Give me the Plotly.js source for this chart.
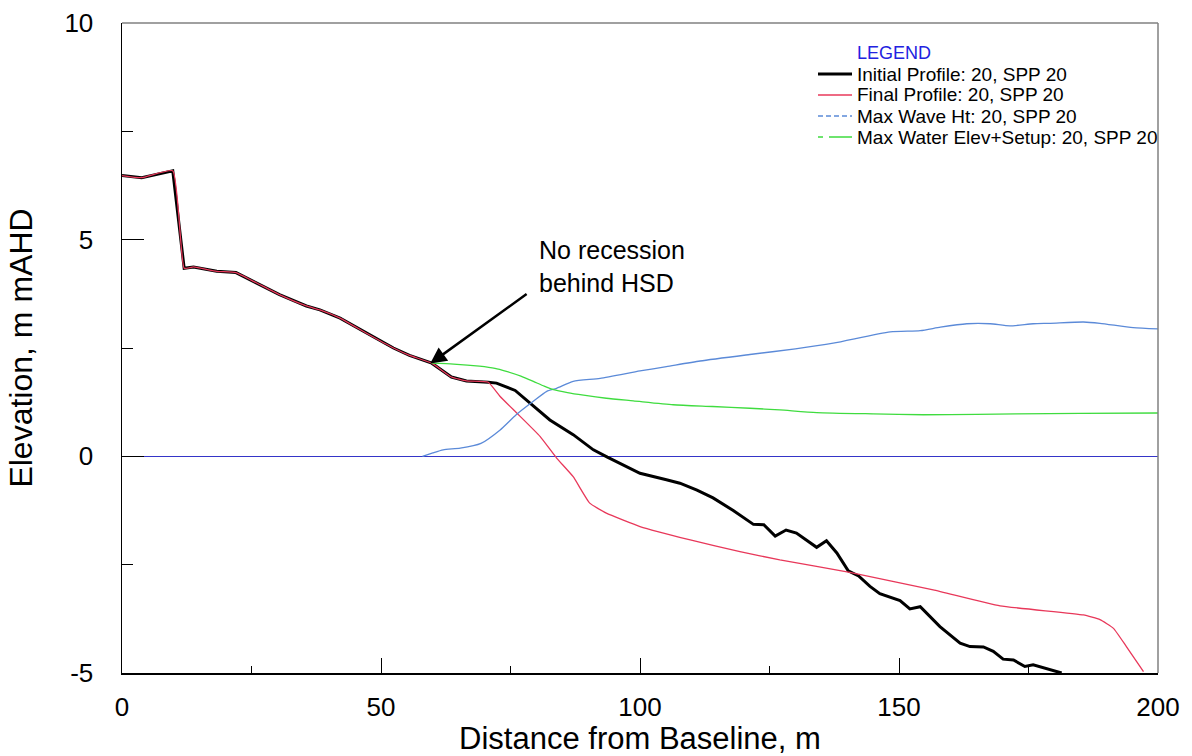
<!DOCTYPE html>
<html>
<head>
<meta charset="utf-8">
<script src="https://cdn.plot.ly/plotly-3.0.1.min.js"></script>
<style>html,body{margin:0;padding:0;background:#fff;}#chart{width:1192px;height:756px;}</style>
</head>
<body>
<div id="chart"></div>
<script>
// Initial profile (black)
const initX = [0, 3.8, 9.8, 12.0, 13.8, 18.3, 22.0, 26.0, 30.4, 35.6, 38.2, 42.1, 47.2, 52.4, 55.5, 59.8, 63.6, 66.5, 70.7, 72.3, 75.9, 79.4, 82.6, 87.1, 91.0, 93.7, 100.0, 105.1, 107.7, 111.0, 114.1, 118.0, 121.9, 123.9, 126.1, 128.2, 130.2, 134.1, 136.0, 138.0, 140.2, 142.2, 144.4, 146.3, 150.2, 152.1, 154.1, 157.9, 161.8, 163.7, 166.3, 168.2, 170.1, 172.1, 174.3, 175.9, 179.2, 181.4];
const initY = [6.48, 6.43, 6.59, 4.34, 4.37, 4.27, 4.24, 4.00, 3.73, 3.47, 3.38, 3.19, 2.84, 2.50, 2.33, 2.15, 1.83, 1.74, 1.71, 1.69, 1.52, 1.17, 0.84, 0.50, 0.15, -0.02, -0.39, -0.54, -0.62, -0.78, -0.96, -1.25, -1.57, -1.58, -1.84, -1.70, -1.77, -2.10, -1.95, -2.23, -2.64, -2.76, -3.00, -3.17, -3.33, -3.52, -3.47, -3.93, -4.31, -4.39, -4.40, -4.50, -4.68, -4.70, -4.85, -4.81, -4.93, -5.00];

// Final profile (red)
const finalX = [0, 3.8, 9.8, 12.0, 13.8, 18.3, 22.0, 26.0, 30.4, 35.6, 38.2, 42.1, 47.2, 52.4, 55.5, 59.8, 63.6, 66.5, 70.7, 73.0, 76.2, 80.7, 83.9, 87.1, 90.3, 93.5, 100.0, 109.7, 119.3, 127.0, 140.5, 156.6, 169.5, 185.6, 188.8, 191.4, 193.9, 197.2];
const finalY = [6.48, 6.43, 6.59, 4.34, 4.37, 4.27, 4.24, 4.00, 3.73, 3.47, 3.38, 3.19, 2.84, 2.50, 2.33, 2.15, 1.83, 1.74, 1.71, 1.38, 1.00, 0.46, -0.04, -0.47, -1.08, -1.31, -1.62, -1.93, -2.20, -2.39, -2.68, -3.08, -3.45, -3.66, -3.77, -3.97, -4.39, -4.97];

// Max wave height (blue)
const waveX = [58.0, 60.0, 62.0, 65.3, 69.3, 73.0, 76.1, 79.4, 82.0, 83.9, 87.1, 92.3, 100.0, 105.1, 111.6, 121.2, 130.0, 137.3, 148.3, 154.1, 158.0, 163.1, 167.6, 171.4, 175.9, 179.2, 185.6, 188.8, 195.2, 200.0];
const waveY = [0.00, 0.08, 0.15, 0.19, 0.30, 0.61, 0.96, 1.27, 1.50, 1.57, 1.73, 1.80, 1.97, 2.07, 2.20, 2.35, 2.48, 2.61, 2.87, 2.90, 2.98, 3.06, 3.06, 3.01, 3.06, 3.07, 3.10, 3.07, 2.97, 2.94];

// Max water elevation + setup (green)
const waterX = [59.8, 64.0, 69.0, 72.0, 74.2, 77.0, 79.4, 81.5, 83.3, 86.0, 89.1, 93.5, 98.7, 106.4, 114.0, 121.2, 127.0, 134.1, 145.0, 154.7, 165.0, 172.6, 185.0, 200.0];
const waterY = [2.15, 2.13, 2.08, 2.03, 1.96, 1.85, 1.73, 1.62, 1.54, 1.47, 1.41, 1.34, 1.28, 1.19, 1.15, 1.11, 1.07, 1.01, 0.98, 0.96, 0.97, 0.98, 0.99, 1.00];

const seriesNames = ["Initial Profile: 20, SPP 20", "Final Profile: 20, SPP 20", "Max Wave Ht: 20, SPP 20", "Max Water Elev+Setup: 20, SPP 20"];

// Tick labels
const xTickVals = [0, 50, 100, 150, 200];
const xTickText = ["0", "50", "100", "150", "200"];
const yTickVals = [-5, 0, 5, 10];
const yTickText = ["-5", "0", "5", "10"];

const FONT = "Liberation Sans, Arial, sans-serif";
const cBlack = "#000000", cRed = "#e8385a", cBlue = "#5b8ad8", cGreen = "#3fdc3f";
const seriesColors = [cBlack, cRed, cBlue, cGreen];
const seriesWidths = [3, 1.3, 1.3, 1.3];
const seriesDash = ["solid", "solid", "5px,3px", "5px,6px,23px,6px"];

const traces = [
  {x: initX, y: initY, name: seriesNames[0], mode: "lines", line: {color: cBlack, width: 3}, hoverinfo: "skip"},
  {x: finalX, y: finalY, name: seriesNames[1], mode: "lines", line: {color: cRed, width: 1.3, shape: "spline", smoothing: 0.4}, hoverinfo: "skip"},
  {x: waveX, y: waveY, name: seriesNames[2], mode: "lines", line: {color: cBlue, width: 1.3, shape: "spline", smoothing: 0.6}, hoverinfo: "skip"},
  {x: waterX, y: waterY, name: seriesNames[3], mode: "lines", line: {color: cGreen, width: 1.3, shape: "spline", smoothing: 0.6}, hoverinfo: "skip"}
];

// pixel -> paper helpers for the hand-built legend block
const L = 122, R = 1158, T = 23, B = 673;
const px = v => (v - L) / (R - L);
const py = v => (B - v) / (B - T);

const shapes = [
  {type: "line", xref: "paper", yref: "paper", x0: 0, x1: 1, y0: 1, y1: 1, line: {color: "#808080", width: 1.5}},
  {type: "line", xref: "paper", yref: "paper", x0: 1, x1: 1, y0: 0, y1: 1, line: {color: "#808080", width: 1.5}}
];
const annotations = [
  {xref: "paper", yref: "paper", x: px(855), y: py(53), xanchor: "left", yanchor: "middle", text: "LEGEND", showarrow: false, font: {family: FONT, size: 18, color: "#2222e0"}},
  {xref: "x", yref: "y", x: 80.1, y: 4.77, xanchor: "left", yanchor: "middle", text: "No recession", showarrow: false, font: {family: FONT, size: 25, color: "#000"}},
  {xref: "x", yref: "y", x: 80.1, y: 4.0, xanchor: "left", yanchor: "middle", text: "behind HSD", showarrow: false, font: {family: FONT, size: 25, color: "#000"}},
  {xref: "x", yref: "y", x: 59.5, y: 2.14, axref: "x", ayref: "y", ax: 78.4, ay: 3.77, text: "", showarrow: true, arrowhead: 2, arrowsize: 1.3, arrowwidth: 2.5, arrowcolor: "#000"}
];
seriesNames.forEach((nm, i) => {
  const yy = 74 + i * 21;
  shapes.push({type: "line", xref: "paper", yref: "paper", x0: px(818), x1: px(852), y0: py(yy), y1: py(yy),
    line: {color: seriesColors[i], width: seriesWidths[i], dash: seriesDash[i]}});
  annotations.push({xref: "paper", yref: "paper", x: px(855), y: py(yy), xanchor: "left", yanchor: "middle", text: nm, showarrow: false,
    font: {family: FONT, size: 19, color: "#000"}});
});

const layout = {
  width: 1192, height: 756,
  margin: {l: 122, r: 34, t: 23, b: 83},
  paper_bgcolor: "#ffffff", plot_bgcolor: "#ffffff",
  font: {family: FONT, color: "#000"},
  showlegend: false,
  xaxis: {
    range: [0, 200], tickmode: "array", tickvals: xTickVals, ticktext: xTickText,
    ticks: "inside", ticklen: 15, tickcolor: "#000", tickwidth: 1,
    minor: {dtick: 25, tick0: 0, ticks: "inside", ticklen: 7, tickcolor: "#000"},
    showline: true, linecolor: "#000", linewidth: 1.5,
    showgrid: false, zeroline: false,
    tickfont: {family: FONT, size: 26, color: "#000"},
    ticklabelstandoff: 10,
    title: {text: "Distance from Baseline, m", font: {family: FONT, size: 31, color: "#000"}, standoff: 8}
  },
  yaxis: {
    range: [-5, 10], tickmode: "array", tickvals: yTickVals, ticktext: yTickText,
    ticks: "inside", ticklen: 22, tickcolor: "#000", tickwidth: 1,
    minor: {dtick: 2.5, tick0: 0, ticks: "inside", ticklen: 11, tickcolor: "#000"},
    showline: true, linecolor: "#000", linewidth: 1.5,
    showgrid: false,
    zeroline: true, zerolinecolor: "#3535c8", zerolinewidth: 1.5,
    tickfont: {family: FONT, size: 26, color: "#000"},
    ticklabelstandoff: 22,
    title: {text: "Elevation, m mAHD", font: {family: FONT, size: 32, color: "#000"}, standoff: 22}
  },
  shapes: shapes,
  annotations: annotations
};

Plotly.newPlot("chart", traces, layout, {displayModeBar: false, staticPlot: true});
</script>
</body>
</html>
